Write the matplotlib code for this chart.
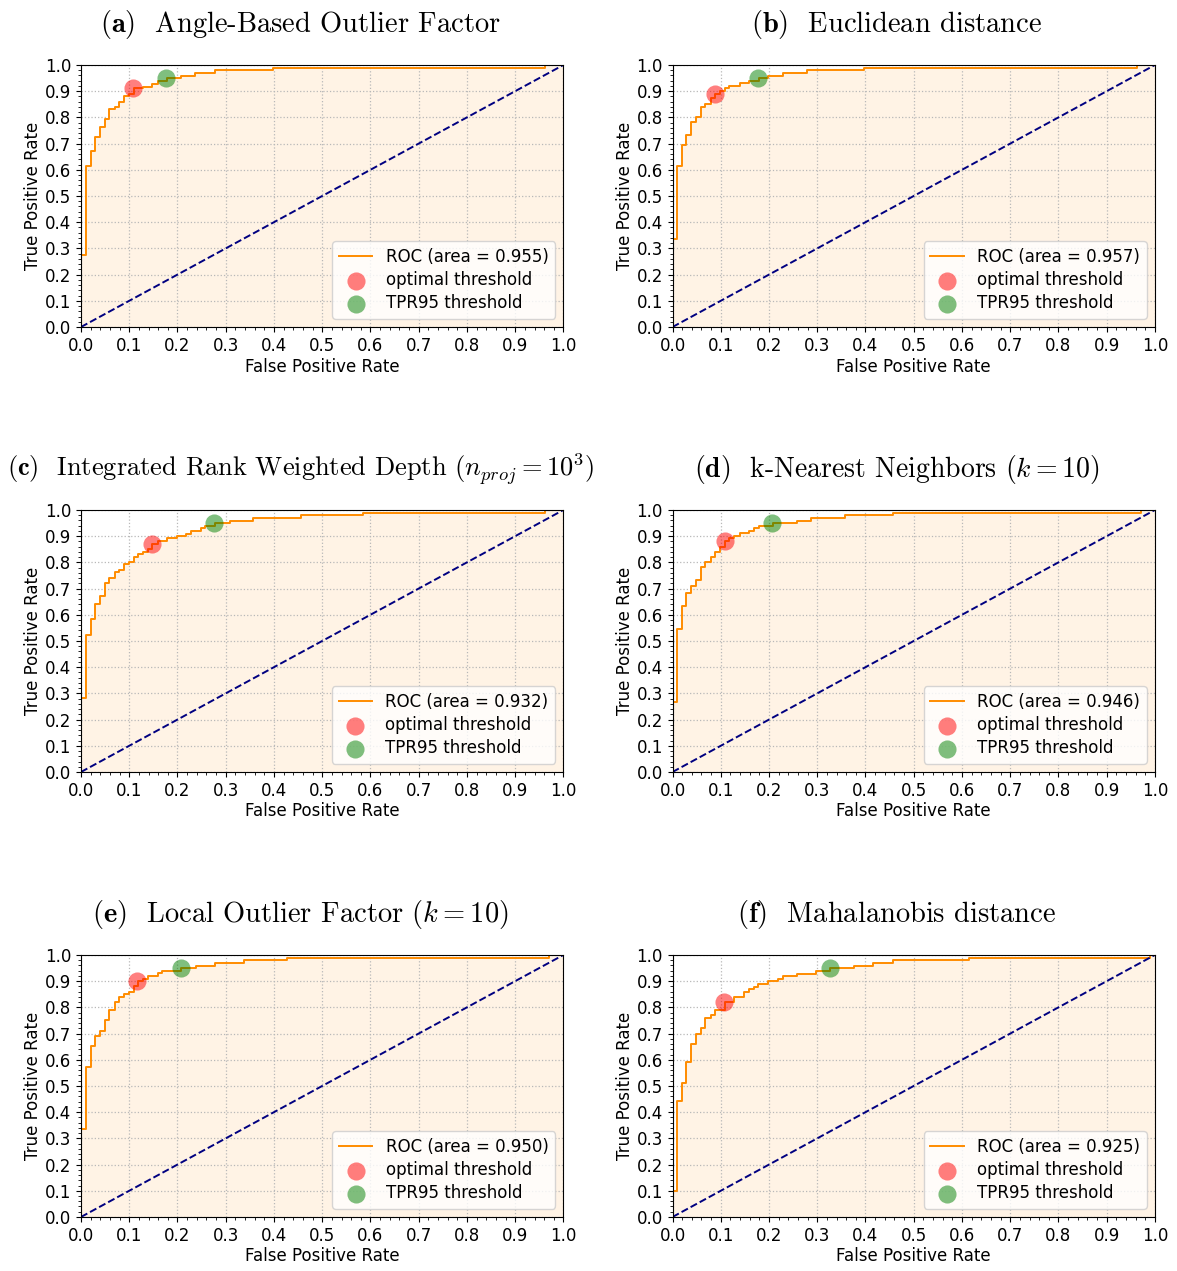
import numpy as np
import matplotlib
matplotlib.use('Agg')
import matplotlib.pyplot as plt
from matplotlib.ticker import MultipleLocator

plt.rcParams['mathtext.fontset'] = 'cm'
plt.rcParams['font.size'] = 12

# ROC curves (fpr, tpr corners) for each detector
fpr_a = [0, 0, 0.010, 0.020, 0.030, 0.040, 0.050, 0.059, 0.070, 0.079, 0.090, 0.099, 0.109, 0.129, 0.148, 0.159,
         0.178, 0.208, 0.237, 0.277, 0.398, 0.961, 1.0]
tpr_a = [0, 0.275, 0.615, 0.673, 0.724, 0.763, 0.793, 0.832, 0.841, 0.860, 0.883, 0.891, 0.911, 0.917, 0.929, 0.939,
         0.950, 0.959, 0.968, 0.980, 0.990, 1.0, 1.0]

fpr_b = [0, 0, 0.009, 0.019, 0.029, 0.039, 0.049, 0.059, 0.068, 0.079, 0.088, 0.098, 0.108, 0.118, 0.139, 0.159,
         0.179, 0.198, 0.228, 0.278, 0.397, 0.962, 1.0]
tpr_b = [0, 0.337, 0.615, 0.693, 0.733, 0.781, 0.803, 0.841, 0.851, 0.872, 0.891, 0.901, 0.911, 0.921, 0.930, 0.940,
         0.950, 0.959, 0.969, 0.980, 0.990, 1.0, 1.0]

fpr_c = [0, 0, 0.010, 0.020, 0.030, 0.040, 0.050, 0.059, 0.070, 0.079, 0.090, 0.099, 0.109, 0.119, 0.129, 0.139,
         0.148, 0.159, 0.179, 0.199, 0.218, 0.228, 0.248, 0.258, 0.277, 0.308, 0.357, 0.457, 0.584, 0.961, 1.0]
tpr_c = [0, 0.284, 0.523, 0.583, 0.642, 0.672, 0.723, 0.742, 0.762, 0.772, 0.793, 0.802, 0.822, 0.832, 0.841, 0.851,
         0.870, 0.880, 0.891, 0.901, 0.910, 0.920, 0.930, 0.940, 0.950, 0.959, 0.969, 0.980, 0.990, 1.0, 1.0]

fpr_d = [0, 0, 0.009, 0.019, 0.029, 0.039, 0.049, 0.059, 0.068, 0.079, 0.088, 0.098, 0.108, 0.118, 0.128, 0.139,
         0.159, 0.168, 0.179, 0.208, 0.258, 0.288, 0.357, 0.456, 0.972, 1.0]
tpr_d = [0, 0.266, 0.545, 0.632, 0.682, 0.711, 0.732, 0.781, 0.801, 0.821, 0.841, 0.860, 0.880, 0.891, 0.901, 0.911,
         0.921, 0.930, 0.940, 0.950, 0.959, 0.969, 0.980, 0.990, 1.0, 1.0]

fpr_e = [0, 0, 0.010, 0.020, 0.030, 0.040, 0.050, 0.059, 0.070, 0.079, 0.090, 0.099, 0.109, 0.119, 0.129, 0.139,
         0.159, 0.168, 0.208, 0.238, 0.278, 0.337, 0.427, 0.971, 1.0]
tpr_e = [0, 0.335, 0.571, 0.651, 0.692, 0.711, 0.751, 0.790, 0.821, 0.840, 0.850, 0.860, 0.880, 0.901, 0.910, 0.920,
         0.930, 0.940, 0.950, 0.959, 0.969, 0.980, 0.990, 1.0, 1.0]

fpr_f = [0, 0, 0.009, 0.019, 0.029, 0.039, 0.049, 0.059, 0.068, 0.079, 0.088, 0.108, 0.128, 0.148, 0.158, 0.168,
         0.178, 0.198, 0.218, 0.228, 0.258, 0.298, 0.326, 0.377, 0.416, 0.456, 0.614, 0.990, 1.0]
tpr_f = [0, 0.100, 0.444, 0.513, 0.590, 0.660, 0.700, 0.720, 0.761, 0.771, 0.791, 0.819, 0.840, 0.860, 0.870, 0.879,
         0.889, 0.899, 0.910, 0.920, 0.929, 0.939, 0.949, 0.959, 0.969, 0.980, 0.990, 1.0, 1.0]

areas = [0.955, 0.957, 0.932, 0.946, 0.950, 0.925]

# (fpr, tpr) of the optimal and TPR95 thresholds
optimal = [(0.108, 0.911), (0.088, 0.891), (0.148, 0.870), (0.108, 0.880), (0.117, 0.901), (0.106, 0.819)]
tpr95 = [(0.177, 0.950), (0.178, 0.950), (0.276, 0.950), (0.206, 0.950), (0.207, 0.950), (0.326, 0.949)]

titles = [r'$\mathbf{(a)}$  Angle-Based Outlier Factor',
          r'$\mathbf{(b)}$  Euclidean distance',
          r'$\mathbf{(c)}$  Integrated Rank Weighted Depth $(n_{proj} = 10^3)$',
          r'$\mathbf{(d)}$  k-Nearest Neighbors $(k = 10)$',
          r'$\mathbf{(e)}$  Local Outlier Factor $(k = 10)$',
          r'$\mathbf{(f)}$  Mahalanobis distance']
title_sizes = [20.5, 20.5, 19, 20, 20.5, 20.5]

curves = [(fpr_a, tpr_a), (fpr_b, tpr_b), (fpr_c, tpr_c), (fpr_d, tpr_d), (fpr_e, tpr_e), (fpr_f, tpr_f)]
chance = [0, 1]

fig, axes = plt.subplots(3, 2, figsize=(11.77, 12.71), dpi=100)
fig.subplots_adjust(left=0.0688, right=0.9813, top=0.9489, bottom=0.0425, wspace=0.226, hspace=0.698)

for i, ax in enumerate(axes.flat):
    fpr, tpr = curves[i]
    ax.step(fpr, tpr, where='post', color='darkorange', lw=1.4, label='ROC (area = %0.3f)' % areas[i])
    ax.fill_between(fpr, tpr, step='post', color='darkorange', alpha=0.1, lw=0)
    ax.plot(chance, chance, color='navy', lw=1.4, linestyle='--')
    ax.scatter(optimal[i][0], optimal[i][1], s=170, color='red', alpha=0.5, lw=0, zorder=3,
               label='optimal threshold')
    ax.scatter(tpr95[i][0], tpr95[i][1], s=170, color='green', alpha=0.5, lw=0, zorder=3,
               label='TPR95 threshold')
    ax.set_xlim(0, 1)
    ax.set_ylim(0, 1)
    ax.xaxis.set_major_locator(MultipleLocator(0.1))
    ax.yaxis.set_major_locator(MultipleLocator(0.1))
    ax.xaxis.set_minor_locator(MultipleLocator(0.02))
    ax.yaxis.set_minor_locator(MultipleLocator(0.02))
    ax.grid(True, which='major', linestyle=':', color='0.72', lw=0.9)
    ax.set_xlabel('False Positive Rate', labelpad=2)
    ax.set_ylabel('True Positive Rate', labelpad=2)
    ax.legend(loc='lower right', fontsize=12, labelspacing=0.3)
    x_title = 0.455 if i % 2 == 0 else 0.465
    ax.set_title(titles[i], x=x_title, pad=24, fontsize=title_sizes[i], fontfamily='cmr10')

fig.savefig('out.png', dpi=100)
